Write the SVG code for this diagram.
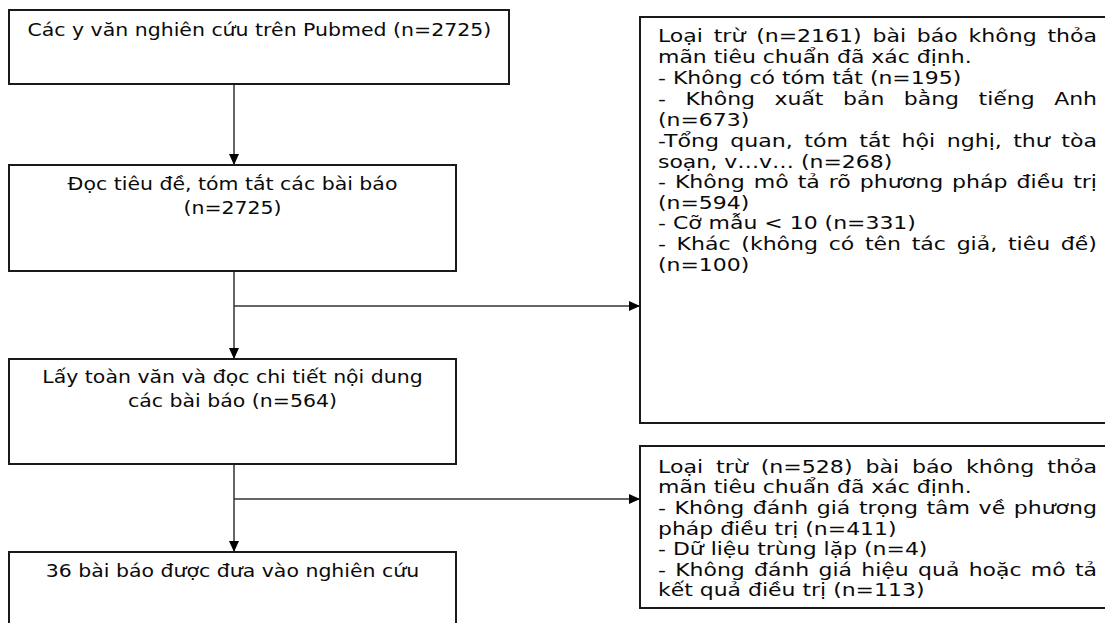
<svg xmlns="http://www.w3.org/2000/svg" width="1105" height="623" viewBox="0 0 1105 623">
<style>
.box{fill:#fff;stroke:#1a1a1a;stroke-width:2}
.t{font-family:"DejaVu Sans",Verdana,sans-serif;font-size:18px;fill:#0a0a0a}
.c{text-anchor:middle}
.ln{fill:none;stroke:#333;stroke-width:1.5}
</style>
<defs>
<marker id="ah" markerWidth="12" markerHeight="10" refX="11" refY="5" orient="auto" markerUnits="userSpaceOnUse">
<path d="M0,0 L11,5 L0,10 Z" fill="#000"/>
</marker>
</defs>
<rect width="1105" height="623" fill="#fff"/>
<g id="connectors">
<path class="ln" d="M234,84 V165" marker-end="url(#ah)"/>
<path class="ln" d="M234,271 V359" marker-end="url(#ah)"/>
<path class="ln" d="M234,306 H640" marker-end="url(#ah)"/>
<path class="ln" d="M234,464 V552" marker-end="url(#ah)"/>
<path class="ln" d="M234,499 H640" marker-end="url(#ah)"/>
</g>
<g id="n1">
<rect class="box" x="9" y="10" width="500" height="74"/>
<text class="t c" transform="translate(259.3,35.5) scale(1.137,1)">Các y văn nghiên cứu trên Pubmed (n=2725)</text>
</g>
<g id="n2">
<rect class="box" x="9" y="165" width="447" height="106"/>
<text class="t c" transform="translate(232.5,189.5) scale(1.137,1)">Đọc tiêu đề, tóm tắt các bài báo</text>
<text class="t c" transform="translate(232.5,213.5) scale(1.137,1)">(n=2725)</text>
</g>
<g id="n3">
<rect class="box" x="9" y="359" width="447" height="105"/>
<text class="t c" transform="translate(232.5,383) scale(1.137,1)">Lấy toàn văn và đọc chi tiết nội dung</text>
<text class="t c" transform="translate(232.5,407) scale(1.137,1)">các bài báo (n=564)</text>
</g>
<g id="n4">
<rect class="box" x="9" y="552" width="447" height="90"/>
<text class="t c" transform="translate(232.5,577) scale(1.137,1)">36 bài báo được đưa vào nghiên cứu</text>
</g>
<g id="e1">
<rect class="box" x="640" y="17" width="480" height="406"/>
<g transform="translate(658,0) scale(1.22,1)">
<text class="t" x="0" y="42.5" word-spacing="3.1" textLength="359.8" lengthAdjust="spacingAndGlyphs">Loại trừ (n=2161) bài báo không thỏa</text>
<text class="t" x="0" y="63.3">mãn tiêu chuẩn đã xác định.</text>
<text class="t" x="0" y="84">- Không có tóm tắt (n=195)</text>
<text class="t" x="0" y="105" word-spacing="10.3" textLength="359.8" lengthAdjust="spacingAndGlyphs">- Không xuất bản bằng tiếng Anh</text>
<text class="t" x="0" y="126">(n=673)</text>
<text class="t" x="0" y="147" word-spacing="3.6" textLength="359.8" lengthAdjust="spacingAndGlyphs">-Tổng quan, tóm tắt hội nghị, thư tòa</text>
<text class="t" x="0" y="167.7">soạn, v…v… (n=268)</text>
<text class="t" x="0" y="188.3" word-spacing="1.6" textLength="359.8" lengthAdjust="spacingAndGlyphs">- Không mô tả rõ phương pháp điều trị</text>
<text class="t" x="0" y="208.7">(n=594)</text>
<text class="t" x="0" y="229.3">- Cỡ mẫu &lt; 10 (n=331)</text>
<text class="t" x="0" y="250" word-spacing="3" textLength="359.8" lengthAdjust="spacingAndGlyphs">- Khác (không có tên tác giả, tiêu đề)</text>
<text class="t" x="0" y="271">(n=100)</text>
</g>
</g>
<g id="e2">
<rect class="box" x="640" y="446" width="480" height="162"/>
<g transform="translate(658,0) scale(1.22,1)">
<text class="t" x="0" y="473" word-spacing="4.8" textLength="359.8" lengthAdjust="spacingAndGlyphs">Loại trừ (n=528) bài báo không thỏa</text>
<text class="t" x="0" y="493.5">mãn tiêu chuẩn đã xác định.</text>
<text class="t" x="0" y="514" word-spacing="1.3" textLength="359.8" lengthAdjust="spacingAndGlyphs">- Không đánh giá trọng tâm về phương</text>
<text class="t" x="0" y="535">pháp điều trị (n=411)</text>
<text class="t" x="0" y="555.5">- Dữ liệu trùng lặp (n=4)</text>
<text class="t" x="0" y="576" word-spacing="1.9" textLength="359.8" lengthAdjust="spacingAndGlyphs">- Không đánh giá hiệu quả hoặc mô tả</text>
<text class="t" x="0" y="596.5">kết quả điều trị (n=113)</text>
</g>
</g>
</svg>
